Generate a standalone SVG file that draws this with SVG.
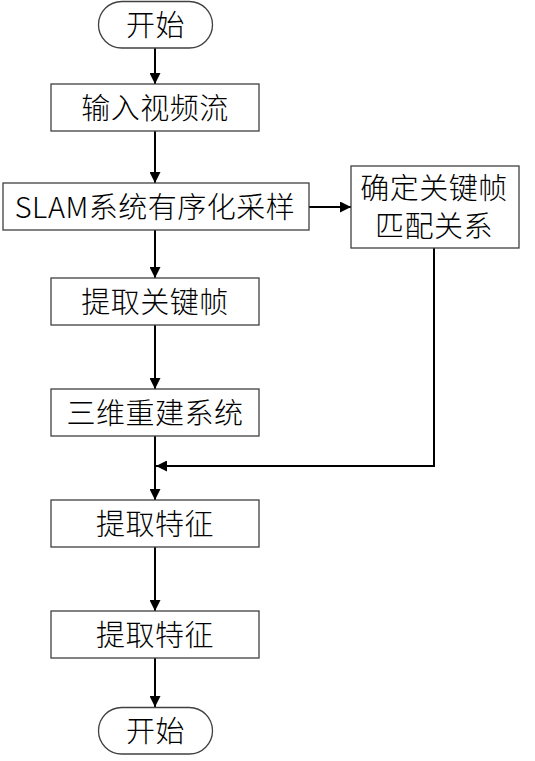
<svg xmlns="http://www.w3.org/2000/svg" width="535" height="761" viewBox="0 0 535 761">
<style>
.box{fill:#fff;stroke:#404040;stroke-width:1.3}
.t{font-family:"Noto Sans CJK SC","Noto Sans",sans-serif;font-size:29px;font-weight:300;letter-spacing:0.5px;fill:#000;text-anchor:middle}
.c{fill:none;stroke:#000;stroke-width:2}
</style>
<defs>
<marker id="ah" markerUnits="userSpaceOnUse" markerWidth="12" markerHeight="11" refX="11" refY="5.5" orient="auto">
<path d="M0,0 L11,5.5 L0,11 z" fill="#000"/>
</marker>
</defs>
<rect width="535" height="761" fill="#fff"/>
<g id="connectors">
<line class="c" x1="155" y1="48" x2="155" y2="84" marker-end="url(#ah)"/>
<line class="c" x1="155" y1="131" x2="155" y2="183" marker-end="url(#ah)"/>
<line class="c" x1="309" y1="207" x2="351" y2="207" marker-end="url(#ah)"/>
<line class="c" x1="155" y1="230" x2="155" y2="278" marker-end="url(#ah)"/>
<line class="c" x1="155" y1="325" x2="155" y2="389" marker-end="url(#ah)"/>
<line class="c" x1="155" y1="436" x2="155" y2="500" marker-end="url(#ah)"/>
<path class="c" d="M434 248 V466 H156" marker-end="url(#ah)"/>
<line class="c" x1="155" y1="547" x2="155" y2="611" marker-end="url(#ah)"/>
<line class="c" x1="155" y1="658" x2="155" y2="707" marker-end="url(#ah)"/>
</g>
<g id="start">
<rect class="box" x="98.5" y="1.5" width="114" height="46.5" rx="23.25"/>
<text class="t" x="155.5" y="35.5">开始</text>
</g>
<g id="input">
<rect class="box" x="51" y="84" width="208" height="47"/>
<text class="t" x="155" y="118.5">输入视频流</text>
</g>
<g id="slam">
<rect class="box" x="3" y="183" width="306" height="47"/>
<text class="t" x="155" y="217.5">SLAM系统有序化采样</text>
</g>
<g id="match">
<rect class="box" x="351" y="166" width="168" height="82"/>
<text class="t" x="434" y="198.5">确定关键帧</text>
<text class="t" x="434" y="236.5">匹配关系</text>
</g>
<g id="keyframe">
<rect class="box" x="51" y="278" width="208" height="47"/>
<text class="t" x="155" y="312.5">提取关键帧</text>
</g>
<g id="recon">
<rect class="box" x="51" y="389" width="208" height="47"/>
<text class="t" x="155" y="423.5">三维重建系统</text>
</g>
<g id="feature1">
<rect class="box" x="51" y="500" width="208" height="47"/>
<text class="t" x="155" y="534.5">提取特征</text>
</g>
<g id="feature2">
<rect class="box" x="51" y="611" width="208" height="47"/>
<text class="t" x="155" y="645.5">提取特征</text>
</g>
<g id="end">
<rect class="box" x="98.5" y="707.5" width="114" height="46.5" rx="23.25"/>
<text class="t" x="155.5" y="741.5">开始</text>
</g>
</svg>
